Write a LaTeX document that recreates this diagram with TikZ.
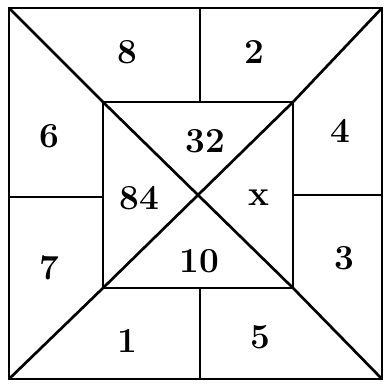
\documentclass[tikz,border=0pt]{standalone}
\usepackage{tikz}

\begin{document}
\begin{tikzpicture}[x=0.025cm, y=-0.025cm, line width=1.9pt,
  num/.style={font=\fontsize{25}{28}\selectfont\bfseries, inner sep=0pt}]
  \useasboundingbox (0,0) rectangle (386,384);

  % Corners
  \coordinate (o1) at (9,8);
  \coordinate (o2) at (382,8);
  \coordinate (o3) at (382,379);
  \coordinate (o4) at (9,379);
  \coordinate (i1) at (103,102);
  \coordinate (i2) at (293,102);
  \coordinate (i3) at (293,288);
  \coordinate (i4) at (103,288);

  % Squares and diagonals
  \draw (o1) -- (o2) -- (o3) -- (o4) -- cycle;
  \draw (i1) -- (i2) -- (i3) -- (i4) -- cycle;
  \draw (o1) -- (i1) -- (i3) -- (o3);
  \draw (o2) -- (i2) -- (i4) -- (o4);

  % Dividers
  \draw (200,8) -- (200,102);
  \draw (200,288) -- (200,379);
  \draw (9,197) -- (103,197);
  \draw (293,195) -- (382,195);

  % Numbers
  \node[num] (n8) at (127,52) {8};
  \node[num] (n2) at (254,52) {2};
  \node[num] (n6) at (49,136) {6};
  \node[num] (n32) at (205,141) {32};
  \node[num] (n4) at (340,131) {4};
  \node[num] (n84) at (139,198) {84};
  \node[num] (nx) at (259,198) {x};
  \node[num] (n7) at (49,268) {7};
  \node[num] (n10) at (199,261) {10};
  \node[num] (n3) at (344,258) {3};
  \node[num] (n1) at (127,341) {1};
  \node[num] (n5) at (260,337) {5};
\end{tikzpicture}
\end{document}
